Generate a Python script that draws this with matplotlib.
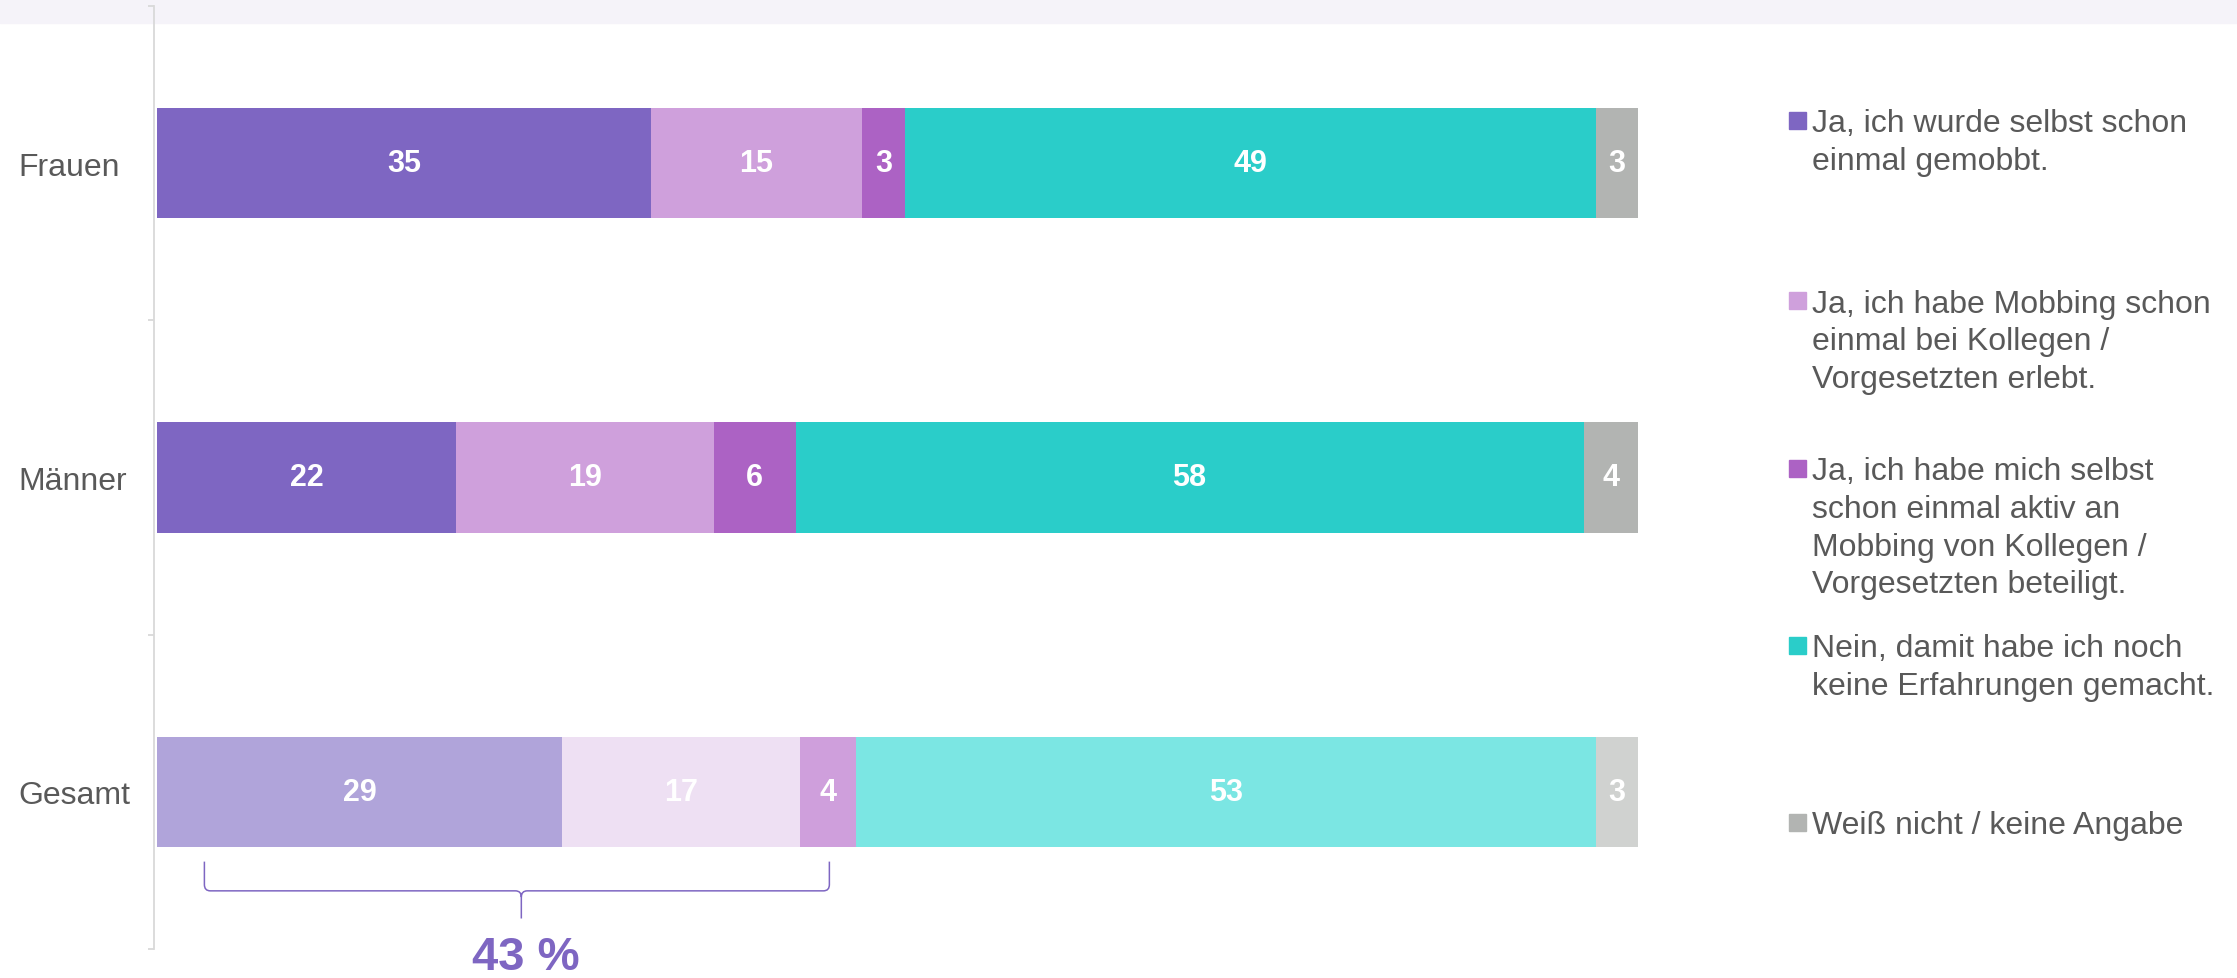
import numpy as np
import matplotlib.pyplot as plt
from matplotlib.patches import Rectangle, PathPatch
from matplotlib.path import Path

plt.rcParams['font.family'] = ['Liberation Sans', 'DejaVu Sans']

# Daten (Angaben in %)
gruppen = ['Frauen', 'Männer', 'Gesamt']
ja_selbst = [35, 22, 29]
ja_erlebt = [15, 19, 17]
ja_beteiligt = [3, 6, 4]
nein = [49, 58, 53]
weiss_nicht = [3, 4, 3]

legende = [
    'Ja, ich wurde selbst schon\neinmal gemobbt.',
    'Ja, ich habe Mobbing schon\neinmal bei Kollegen /\nVorgesetzten erlebt.',
    'Ja, ich habe mich selbst\nschon einmal aktiv an\nMobbing von Kollegen /\nVorgesetzten beteiligt.',
    'Nein, damit habe ich noch\nkeine Erfahrungen gemacht.',
    'Weiß nicht / keine Angabe',
]

farben = ['#7E66C2', '#CFA0DC', '#AC62C4', '#2ACDC9', '#B2B4B2']
farben_gesamt = ['#B0A4DA', '#EEE0F3', '#CF9FDC', '#7BE6E3', '#D0D2D0']

summe_text = '43 %'

GRAU_TEXT = '#595959'
W, H = 2237, 979

werte = np.array([ja_selbst, ja_erlebt, ja_beteiligt, nein, weiss_nicht], dtype=float)
anteile = werte / werte.sum(axis=0) * 100  # jede Zeile auf 100 % skaliert

fig = plt.figure(figsize=(W / 100, H / 100), dpi=100)

# heller Streifen oben
fig.patches.append(Rectangle((0, 1 - 24 / H), 1, 24 / H, transform=fig.transFigure,
                             color='#F5F3F9', zorder=-1))

ax = fig.add_axes([157 / W, 1 - 950 / H, 1481 / W, 943 / H])
ax.patch.set_visible(False)

y = np.arange(len(gruppen))
links = np.zeros(len(gruppen))
for i in range(len(werte)):
    cols = [farben[i], farben[i], farben_gesamt[i]]
    ax.barh(y, anteile[i], left=links, height=0.35, color=cols, linewidth=0)
    for j in range(len(gruppen)):
        ax.text(links[j] + anteile[i][j] / 2, y[j], str(int(werte[i][j])),
                ha='center', va='center', color='white', fontsize=22, fontweight='bold')
    links += anteile[i]

ax.set_xlim(0, 100)
ax.set_ylim(2.5, -0.5)
ax.set_xticks([])
for s in ['top', 'right', 'bottom']:
    ax.spines[s].set_visible(False)
ax.spines['left'].set_color('#D9D9D9')
ax.spines['left'].set_linewidth(1.3)
ax.spines['left'].set_position(('outward', 2))

ax.set_yticks(y)
ax.set_yticklabels(gruppen, ha='left', fontsize=23, color=GRAU_TEXT)
ax.set_yticks([-0.5, 0.5, 1.5, 2.5], minor=True)
ax.tick_params(axis='y', which='major', length=0, pad=98)
ax.tick_params(axis='y', which='minor', length=4.5, width=1.3, color='#D9D9D9')

# geschweifte Klammer unter "Gesamt"
xl, xr, xm = 3.2, 45.4, 24.6
y_oben, y_mitte, y_spitze = 2.222, 2.315, 2.403
rx, ry = 0.4, 0.02
verts = [
    (xl, y_oben), (xl, y_mitte - ry), (xl, y_mitte), (xl + rx, y_mitte),
    (xm - rx, y_mitte), (xm, y_mitte), (xm, y_mitte + ry), (xm, y_spitze),
    (xr, y_oben), (xr, y_mitte - ry), (xr, y_mitte), (xr - rx, y_mitte),
    (xm + rx, y_mitte), (xm, y_mitte), (xm, y_mitte + ry),
]
codes = [
    Path.MOVETO, Path.LINETO, Path.CURVE3, Path.CURVE3,
    Path.LINETO, Path.CURVE3, Path.CURVE3, Path.LINETO,
    Path.MOVETO, Path.LINETO, Path.CURVE3, Path.CURVE3,
    Path.LINETO, Path.CURVE3, Path.CURVE3,
]
ax.add_patch(PathPatch(Path(verts, codes), facecolor='none', edgecolor='#7E66C2',
                       linewidth=1.1, clip_on=False))
ax.text(xm + 0.3, 2.563, summe_text, ha='center', va='baseline', fontsize=34,
        fontweight='bold', color='#7E66C2', clip_on=False)

# Legende rechts
zeilen_mitte = [121, 301, 469, 646, 823]
for i, text in enumerate(legende):
    m = zeilen_mitte[i]
    fig.patches.append(Rectangle((1789 / W, 1 - (m + 8.5) / H), 17 / W, 17 / H,
                                 transform=fig.transFigure, color=farben[i]))
    fig.text(1812 / W, 1 - (m - 11.5) / H, text, ha='left', va='top', fontsize=23,
             color=GRAU_TEXT, linespacing=1.33)

fig.savefig('out.png', dpi=100)
